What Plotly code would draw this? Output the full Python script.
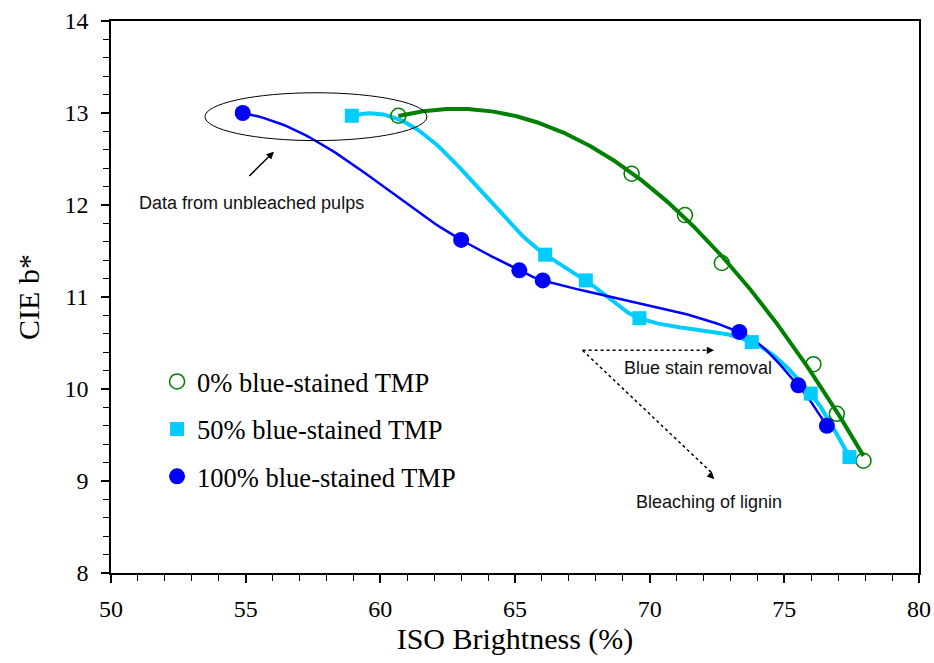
import numpy as np
import plotly.graph_objects as go
from numpy.polynomial import Polynomial

# ---- data ----
x0 = [60.67, 69.33, 71.31, 72.68, 76.08, 76.95, 77.94]
y0 = [12.97, 12.34, 11.89, 11.37, 10.27, 9.73, 9.22]

x50 = [58.94, 66.12, 67.63, 69.62, 73.79, 75.98, 77.42]
y50 = [12.97, 11.46, 11.18, 10.77, 10.51, 9.95, 9.26]

x100 = [54.89, 63.0, 65.16, 66.03, 73.33, 75.52, 76.58]
y100 = [13.0, 11.62, 11.29, 11.18, 10.62, 10.04, 9.60]

names = ["0% blue-stained TMP", "50% blue-stained TMP", "100% blue-stained TMP"]
xticks = [50, 55, 60, 65, 70, 75, 80]
yticks = [8, 9, 10, 11, 12, 13, 14]

GREEN = "#008000"
CYAN = "#00CCFF"
BLUE = "#0000FF"

XR = (50, 80)
YR = (8, 14)
W, H = 934, 663
ML, MR, MT, MB = 111, 15, 21, 90
SX = (W - ML - MR) / (XR[1] - XR[0])   # px per x unit
SY = (H - MT - MB) / (YR[1] - YR[0])   # px per y unit


def trend(xs, ys, deg, n=300):
    p = Polynomial.fit(xs, ys, deg)
    xf = np.linspace(min(xs), max(xs), n)
    return xf, p(xf)


def smooth(xs, ys, start_angle_deg, n=50):
    """Smoothed line (cubic Hermite in screen space) through the data points."""
    P = np.column_stack([(np.array(xs) - XR[0]) * SX, (YR[1] - np.array(ys)) * SY])
    m = len(P)
    D = np.zeros_like(P)
    a = np.radians(start_angle_deg)
    D[0] = [np.cos(a), np.sin(a)]
    for i in range(1, m - 1):
        v = P[i + 1] - P[i - 1]
        D[i] = v / np.linalg.norm(v)
    v = P[-1] - P[-2]
    D[-1] = v / np.linalg.norm(v)
    out = []
    t = np.linspace(0, 1, n)[:, None]
    h00 = 2 * t**3 - 3 * t**2 + 1
    h10 = t**3 - 2 * t**2 + t
    h01 = -2 * t**3 + 3 * t**2
    h11 = t**3 - t**2
    for i in range(m - 1):
        L = np.linalg.norm(P[i + 1] - P[i])
        seg = h00 * P[i] + h10 * D[i] * L + h01 * P[i + 1] + h11 * D[i + 1] * L
        out.append(seg if i == 0 else seg[1:])
    S = np.vstack(out)
    return S[:, 0] / SX + XR[0], YR[1] - S[:, 1] / SY


g_x, g_y = trend(x0, y0, 2)
c_x, c_y = smooth(x50, y50, -15)
b_x, b_y = smooth(x100, y100, 10)

fig = go.Figure()
fig.add_trace(go.Scatter(x=g_x, y=g_y, mode="lines", line=dict(color=GREEN, width=4),
                         showlegend=False, hoverinfo="skip"))
fig.add_trace(go.Scatter(x=c_x, y=c_y, mode="lines", line=dict(color=CYAN, width=4),
                         showlegend=False, hoverinfo="skip"))
fig.add_trace(go.Scatter(x=b_x, y=b_y, mode="lines", line=dict(color=BLUE, width=2.5),
                         showlegend=False, hoverinfo="skip"))

fig.add_trace(go.Scatter(x=x0, y=y0, mode="markers", name=names[0], legendgroup="a",
                         marker=dict(symbol="circle-open", size=15, color=GREEN,
                                     line=dict(width=1.5, color=GREEN))))
fig.add_trace(go.Scatter(x=x50, y=y50, mode="markers", name=names[1], legendgroup="b",
                         marker=dict(symbol="square", size=14, color=CYAN)))
fig.add_trace(go.Scatter(x=x100, y=y100, mode="markers", name=names[2], legendgroup="c",
                         marker=dict(symbol="circle", size=16, color=BLUE)))

# ellipse around unbleached data
fig.add_shape(type="circle", xref="x", yref="y", x0=53.49, x1=61.73, y0=12.70, y1=13.22,
              line=dict(color="black", width=1))
# dotted guide lines
fig.add_shape(type="line", xref="x", yref="y", x0=67.51, y0=10.42, x1=72.3, y1=10.42,
              line=dict(color="black", width=1.5, dash="dot"))
fig.add_shape(type="line", xref="x", yref="y", x0=67.51, y0=10.42, x1=72.3, y1=9.09,
              line=dict(color="black", width=1.5, dash="dot"))

ann_font = dict(family="Liberation Sans, Arial", size=18, color="#111111")
annotations = [
    dict(x=56.05, y=12.58, ax=55.08, ay=12.30, xref="x", yref="y", axref="x", ayref="y",
         showarrow=True, arrowhead=2, arrowsize=1, arrowwidth=1.5, arrowcolor="black", text=""),
    dict(x=72.39, y=10.42, ax=-9, ay=0, xref="x", yref="y", showarrow=True, arrowhead=2,
         arrowsize=1.2, arrowwidth=1.2, arrowcolor="black", text=""),
    dict(x=72.4, y=9.02, ax=-7, ay=-7, xref="x", yref="y", showarrow=True, arrowhead=2,
         arrowsize=1.2, arrowwidth=1.2, arrowcolor="black", text=""),
    dict(x=55.2, y=12.02, xref="x", yref="y", text="Data from unbleached pulps",
         showarrow=False, font=ann_font),
    dict(x=71.81, y=10.23, xref="x", yref="y", text="Blue stain removal",
         showarrow=False, font=ann_font),
    dict(x=72.22, y=8.775, xref="x", yref="y", text="Bleaching of lignin",
         showarrow=False, font=ann_font),
]

serif = "Liberation Serif, Times New Roman, serif"
fig.update_layout(
    width=W, height=H,
    margin=dict(l=ML, r=MR, t=MT, b=MB),
    paper_bgcolor="white", plot_bgcolor="white",
    font=dict(family=serif, color="black"),
    annotations=annotations,
    showlegend=True,
    legend=dict(x=0.057, y=0.39, xanchor="left", yanchor="top",
                font=dict(family=serif, size=26.5, color="black"),
                bgcolor="rgba(0,0,0,0)", traceorder="grouped", tracegroupgap=10),
    xaxis=dict(range=list(XR), tickvals=xticks, ticktext=[str(v) for v in xticks],
               automargin=False,
               showgrid=False, zeroline=False, showline=True, linecolor="black", linewidth=2,
               mirror=True, ticks="outside", ticklen=8, tickwidth=1.5, tickcolor="black",
               minor=dict(dtick=1, ticks="outside", ticklen=6, tickwidth=1, tickcolor="black"),
               tickfont=dict(family=serif, size=24), ticklabelstandoff=5,
               title=dict(text="ISO Brightness (%)", font=dict(family=serif, size=30), standoff=6)),
    yaxis=dict(range=list(YR), tickvals=yticks, ticktext=[str(v) for v in yticks],
               automargin=False,
               showgrid=False, zeroline=False, showline=True, linecolor="black", linewidth=1.5,
               mirror=True, ticks="outside", ticklen=8, tickwidth=1.5, tickcolor="black",
               minor=dict(dtick=0.2, ticks="outside", ticklen=6, tickwidth=1, tickcolor="black"),
               tickfont=dict(family=serif, size=24), ticklabelstandoff=8,
               title=dict(text="CIE b*", font=dict(family=serif, size=30), standoff=16)),
)

fig.write_html("out.html")
